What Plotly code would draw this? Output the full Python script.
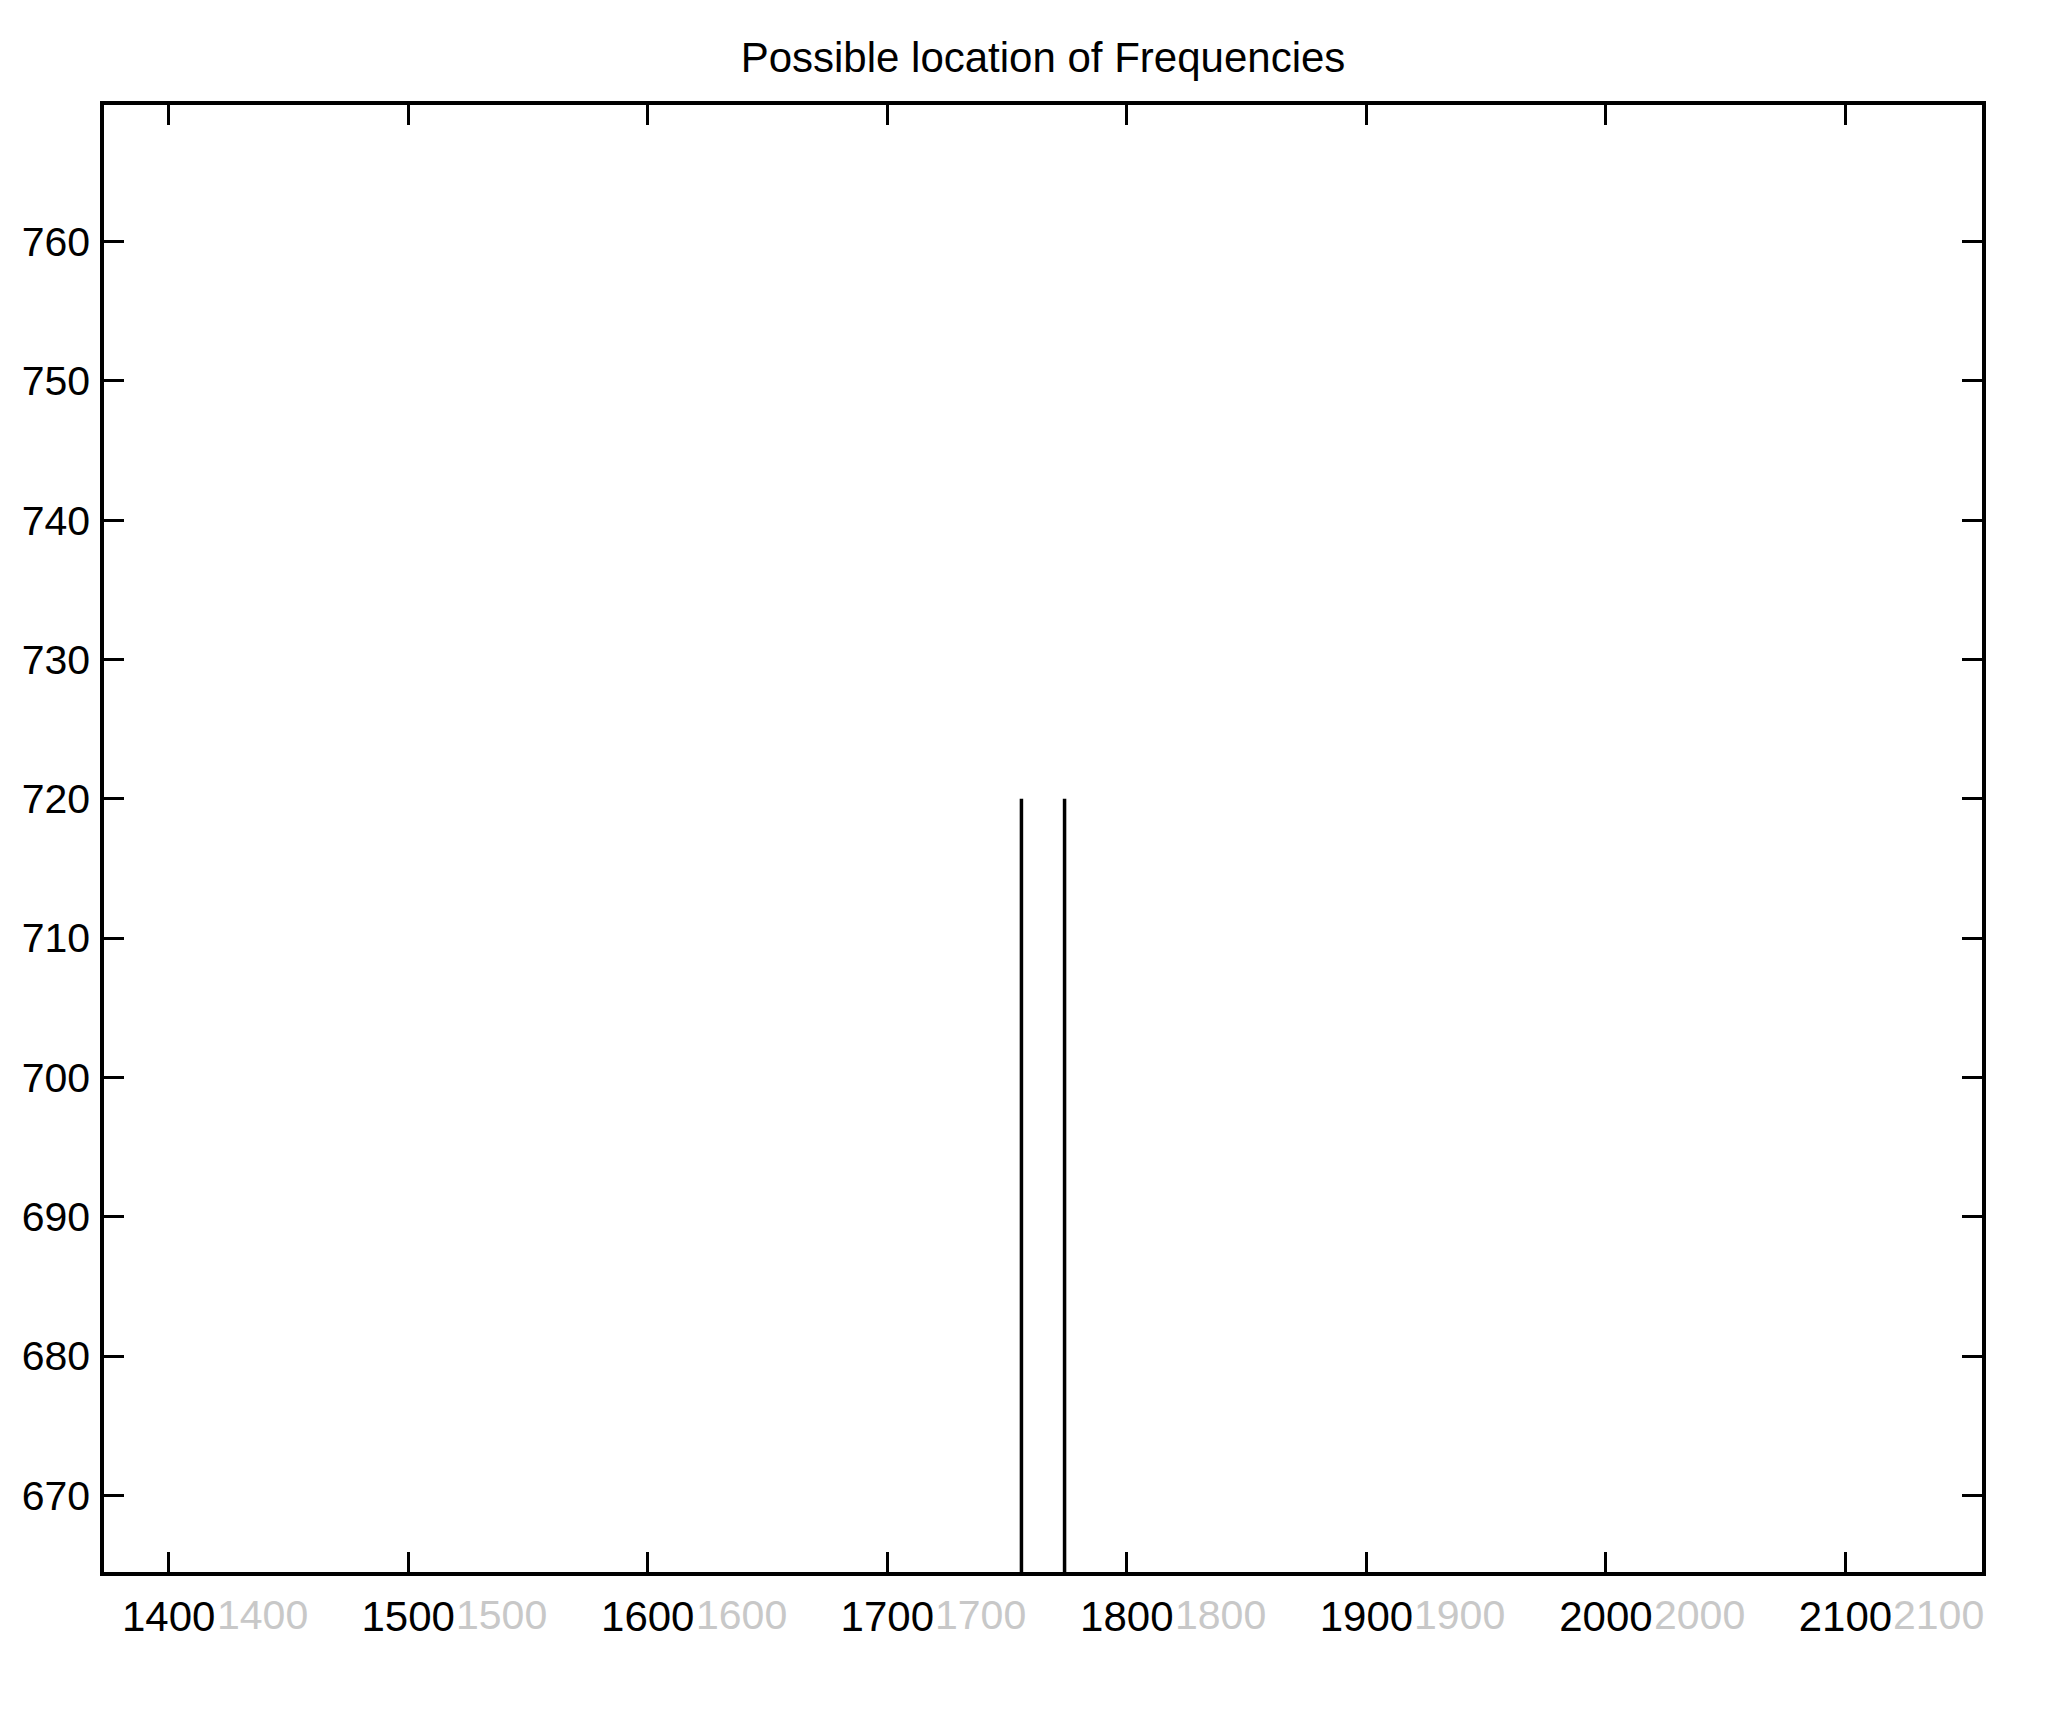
import plotly.graph_objects as go

# Data
freqs = [1756, 1774]          # locations of the two detected frequencies
heights = [720, 720]          # stem tops
baseline = 600                # stems start below the visible range
x_ticks = [1400, 1500, 1600, 1700, 1800, 1900, 2000, 2100]
y_ticks = [670, 680, 690, 700, 710, 720, 730, 740, 750, 760]
x_range = [1373, 2157]
y_range = [664.5, 769.8]
title_text = "Possible location of Frequencies"

FONT = "Liberation Sans, Arial, Helvetica, sans-serif"

xs, ys = [], []
for f, h in zip(freqs, heights):
    xs += [f, f, None]
    ys += [baseline, h, None]

fig = go.Figure()
fig.add_trace(go.Scatter(x=xs, y=ys, mode="lines",
                         line=dict(color="black", width=3.5),
                         showlegend=False, hoverinfo="skip"))

# faint "ghost" duplicates of the x tick labels visible in the scan
for t in x_ticks:
    fig.add_annotation(x=t, xref="x", y=0, yref="paper", yanchor="top",
                       xanchor="left", xshift=46, yshift=-18, showarrow=False,
                       text=str(t), font=dict(family=FONT, size=41, color="#c8c8c8"))

axis_common = dict(showline=True, linecolor="black", linewidth=3.5, mirror="ticks",
                   ticks="inside", ticklen=20, tickwidth=2.5, tickcolor="black",
                   showgrid=False, zeroline=False)

fig.update_xaxes(range=x_range, tickvals=x_ticks, ticktext=[str(t) for t in x_ticks],
                 ticklabelstandoff=5, tickfont=dict(family=FONT, size=42, color="black"),
                 **axis_common)
fig.update_yaxes(range=y_range, tickvals=y_ticks, ticktext=[str(t) for t in y_ticks],
                 ticklabelstandoff=2, tickfont=dict(family=FONT, size=41, color="black"),
                 **axis_common)

fig.update_layout(
    width=2050, height=1699,
    margin=dict(l=96, r=76, t=97, b=135),
    paper_bgcolor="white", plot_bgcolor="white",
    title=dict(text=title_text, x=0.5, xref="paper", xanchor="center",
               y=1 - 49 / 1699, yref="container", yanchor="middle",
               font=dict(family=FONT, size=42, color="black")),
)

fig.write_html("out.html")
